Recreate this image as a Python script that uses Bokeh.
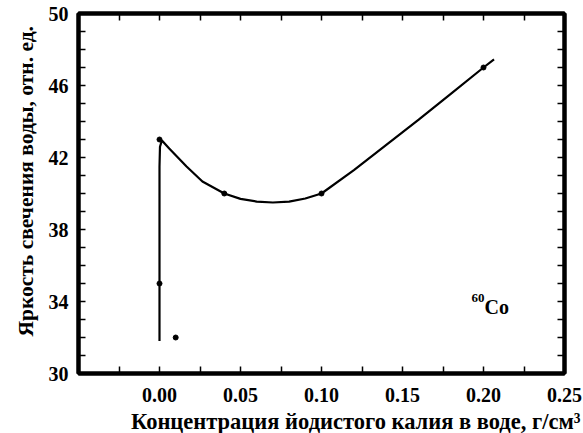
from bokeh.plotting import figure
from bokeh.models import (LinearAxis, FixedTicker, PrintfTickFormatter, Range1d,
                          Title, CustomJSTickFormatter)
from bokeh.core.properties import value
from bokeh.embed import file_html
from bokeh.resources import INLINE

# measured points
pt_x = [0.0, 0.0, 0.01, 0.04, 0.10, 0.20]
pt_y = [43.0, 35.0, 32.0, 40.0, 40.0, 47.0]

# hand-read fitted curve
curve_x = [0.0, 0.0, 0.0003, 0.0015, 0.006, 0.0167, 0.0265, 0.04, 0.05, 0.06,
           0.07, 0.08, 0.09, 0.10, 0.12, 0.14, 0.16, 0.18, 0.20, 0.2065]
curve_y = [31.8, 41.5, 42.6, 42.95, 42.5, 41.5, 40.67, 40.0, 39.7, 39.55,
           39.5, 39.55, 39.72, 40.0, 41.3, 42.7, 44.1, 45.55, 47.0, 47.45]

x_major = [0.0, 0.05, 0.10, 0.15, 0.20, 0.25]
x_minor = [-0.025, 0.025, 0.075, 0.125, 0.175, 0.225]
y_major = [30, 34, 38, 42, 46, 50]
y_minor = [31, 32, 33, 35, 36, 37, 39, 40, 41, 43, 44, 45, 47, 48, 49]

x_title = "Концентрация йодистого калия в воде, г/см³"
y_title = "Яркость свечения воды, отн. ед."

FONT = "Liberation Serif"

p = figure(width=583, height=433, output_backend="svg", toolbar_location=None,
           x_range=Range1d(-0.05, 0.25), y_range=Range1d(30, 50),
           x_axis_location=None, y_axis_location=None,
           min_border_left=78, min_border_right=19, min_border_top=13,
           min_border_bottom=60)
p.frame_width = 486
p.frame_height = 360
p.grid.visible = False
p.outline_line_color = "black"
p.outline_line_width = 4
p.background_fill_color = "white"
p.border_fill_color = "white"

def style(ax, labels=True):
    ax.axis_line_width = 4
    ax.axis_line_color = "black"
    ax.major_tick_in = 7
    ax.major_tick_out = 0
    ax.minor_tick_in = 7
    ax.minor_tick_out = 0
    ax.major_tick_line_width = 1.5
    ax.minor_tick_line_width = 1.5
    ax.major_label_text_font = FONT
    ax.major_label_text_font_style = "bold"
    ax.major_label_text_font_size = "20px"
    ax.major_label_text_color = "black"
    if not labels:
        ax.formatter = CustomJSTickFormatter(code="return ''")
        ax.major_label_standoff = 0

xt = FixedTicker(ticks=x_major, minor_ticks=x_minor)
yt = FixedTicker(ticks=y_major, minor_ticks=y_minor)

xb = LinearAxis(ticker=xt, formatter=PrintfTickFormatter(format="%.2f"))
style(xb)
xb.major_label_standoff = 14
p.add_layout(xb, "below")

yl = LinearAxis(ticker=yt)
style(yl)
yl.major_label_standoff = 10
p.add_layout(yl, "left")

xa = LinearAxis(ticker=xt)
style(xa, labels=False)
p.add_layout(xa, "above")

yr = LinearAxis(ticker=yt)
style(yr, labels=False)
p.add_layout(yr, "right")

p.line(curve_x, curve_y, line_color="black", line_width=2.2)
p.scatter(pt_x, pt_y, size=5, color="black")

# axis titles (shifted from the frame centre, as in the reference)
p.add_layout(Title(text=x_title, align="right", offset=-16, standoff=4,
                   text_font=FONT, text_font_style="bold",
                   text_font_size="22.5px", text_color="black"), "below")
p.add_layout(Title(text=y_title, align="left", offset=37, standoff=15,
                   text_font=FONT, text_font_style="bold",
                   text_font_size="21.5px", text_color="black"), "left")

p.text(x=[0.2006], y=[33.72], text=["Co"], text_font=value(FONT),
       text_font_style="bold", text_font_size="20px", text_color="black",
       text_baseline="alphabetic")
p.text(x=[0.2006], y=[34.17], text=["60"], text_font=value(FONT),
       text_font_style="bold", text_font_size="13px", text_color="black",
       text_baseline="alphabetic", text_align="right")

open("out.html", "w").write(file_html(p, INLINE))
